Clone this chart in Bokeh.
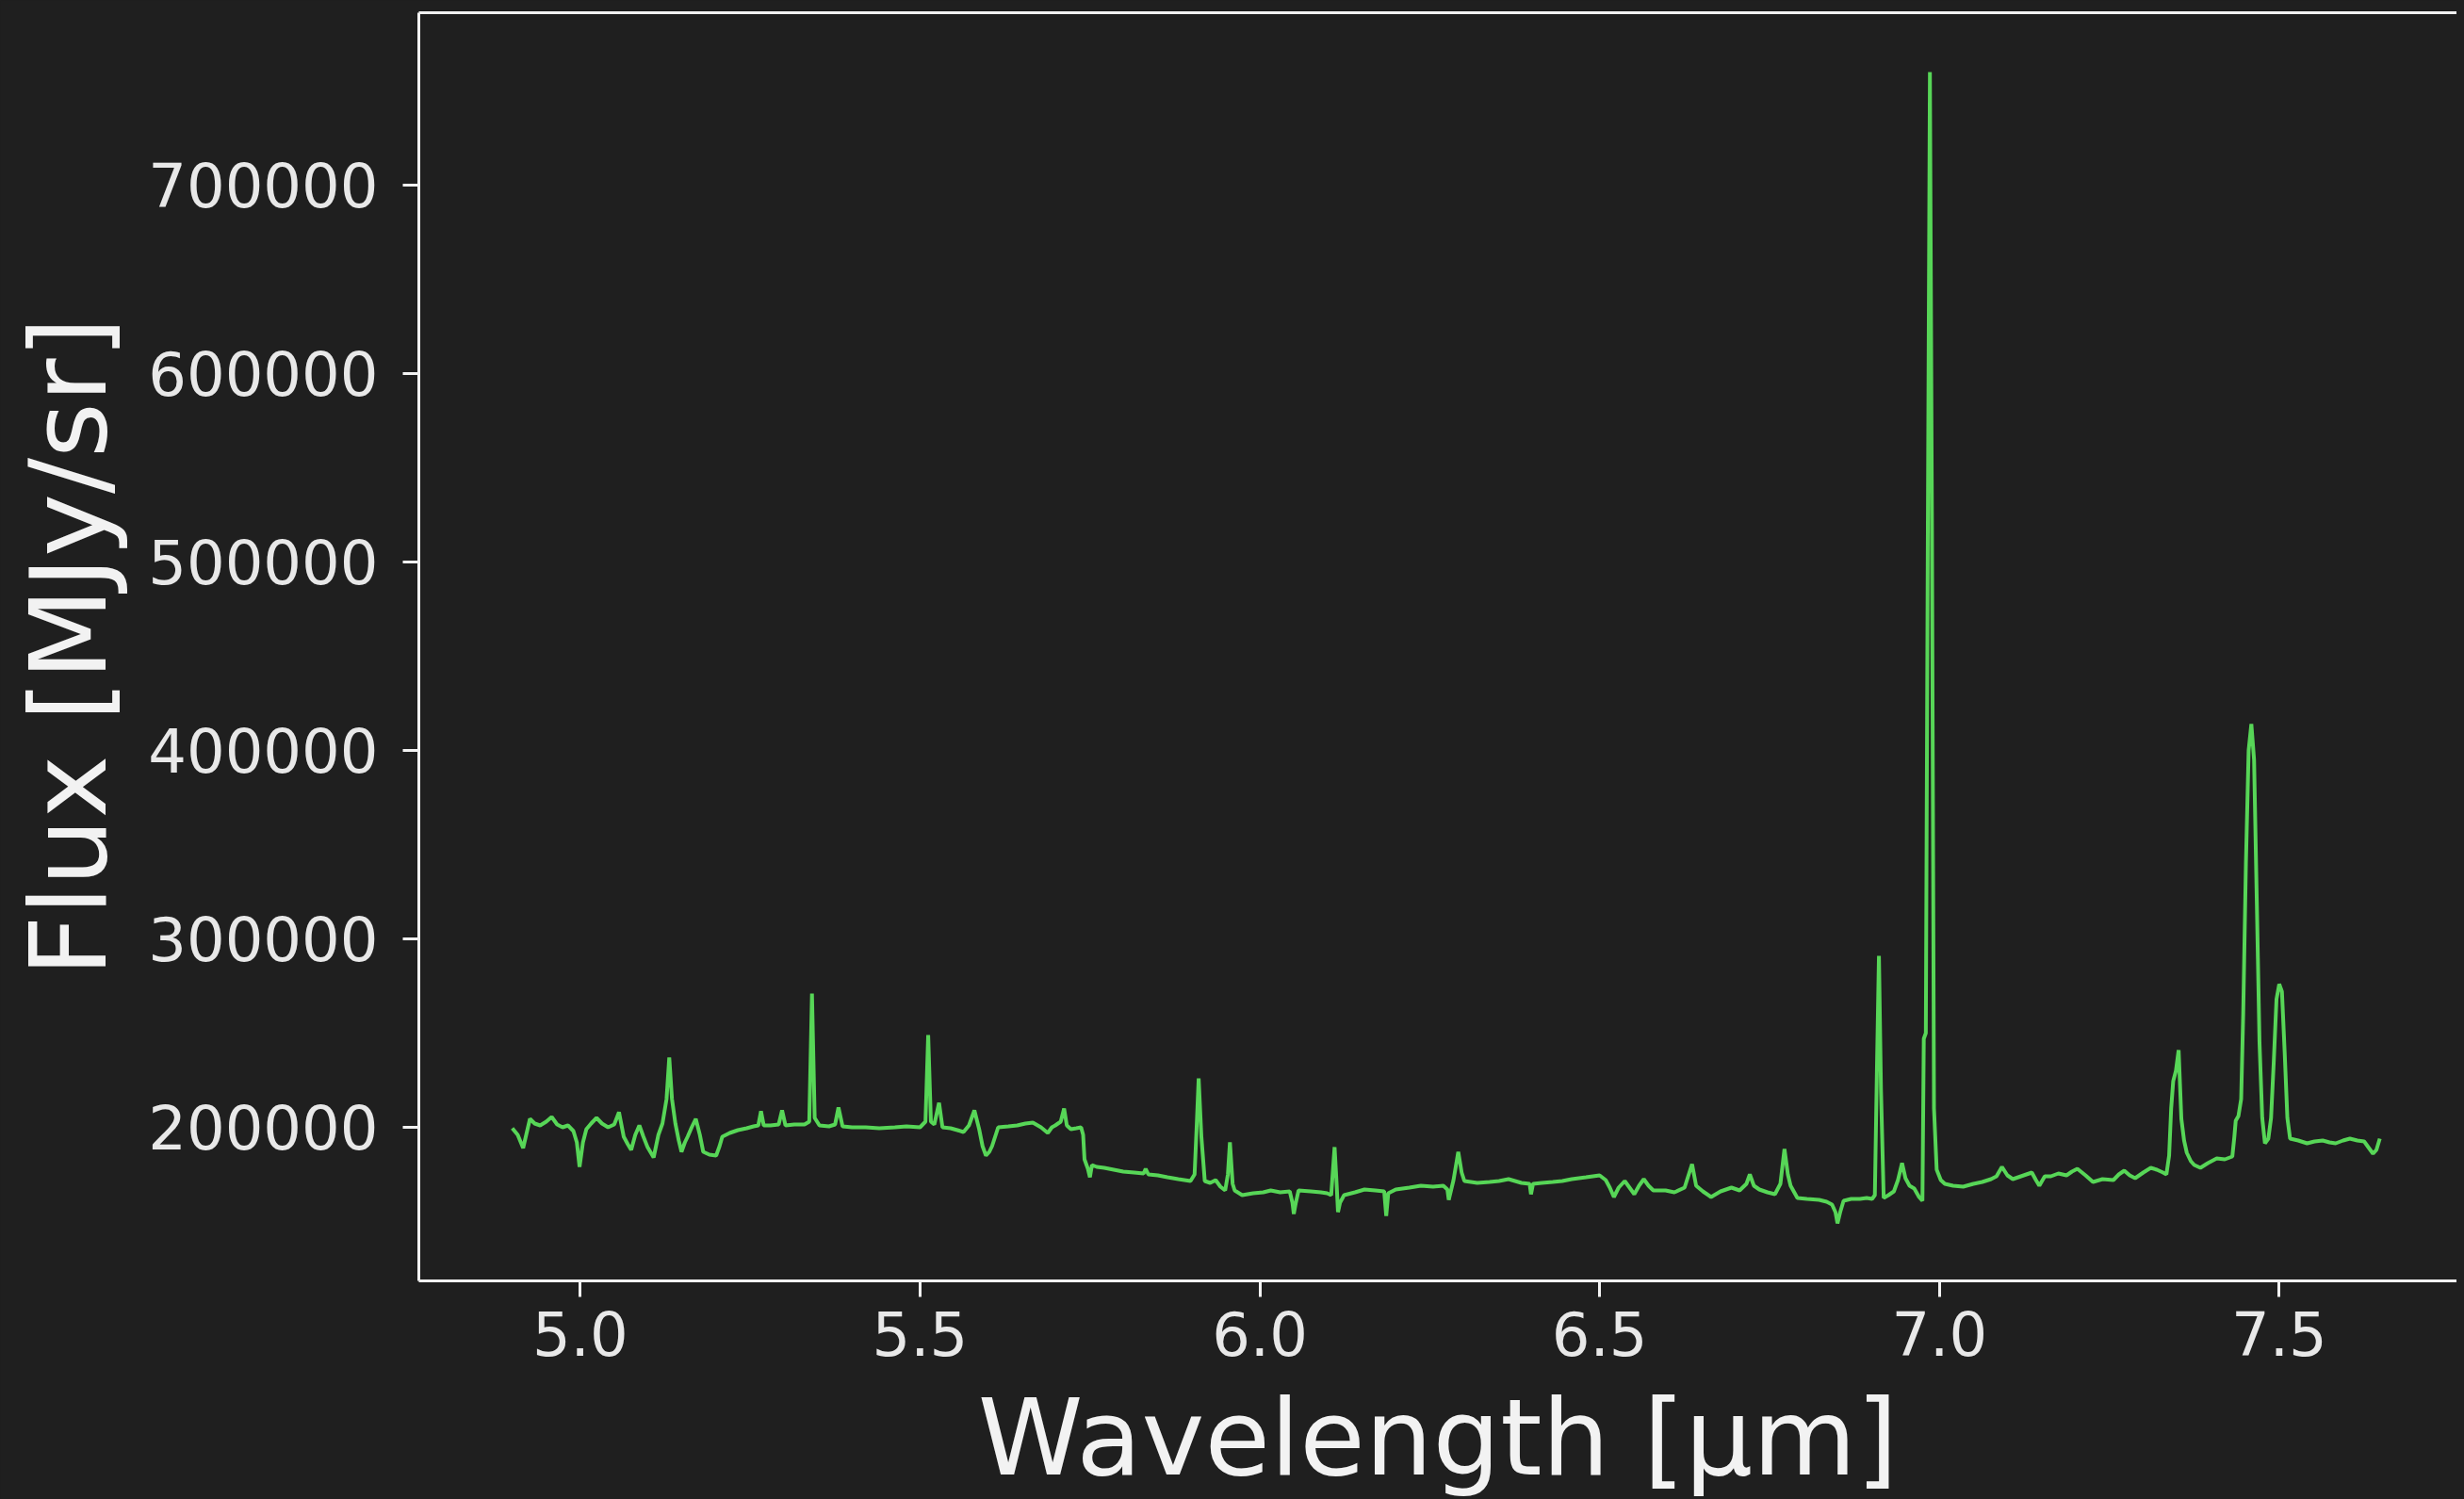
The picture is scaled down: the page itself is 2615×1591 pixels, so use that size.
import numpy as np
from bokeh.plotting import figure
from bokeh.models import LinearAxis, FixedTicker, BasicTickFormatter, PrintfTickFormatter, Range1d
from bokeh.embed import file_html
from bokeh.resources import INLINE

# Spectrum (wavelength in micron, flux in MJy/sr)
wavelength = [
    4.900, 4.908, 4.916, 4.926, 4.933, 4.941, 4.950, 4.958, 4.966, 4.974,
    4.982, 4.990, 4.995, 4.999, 5.004, 5.009, 5.016, 5.024, 5.032, 5.041,
    5.050, 5.057, 5.064, 5.070, 5.075, 5.081, 5.087, 5.093, 5.099, 5.108,
    5.115, 5.121, 5.127, 5.131, 5.135, 5.140, 5.145, 5.149, 5.154, 5.158,
    5.164, 5.170, 5.176, 5.181, 5.190, 5.200, 5.205, 5.209, 5.220, 5.232,
    5.245, 5.255, 5.262, 5.266, 5.270, 5.280, 5.292, 5.297, 5.302, 5.315,
    5.330, 5.337, 5.341, 5.345, 5.352, 5.366, 5.375, 5.380, 5.386, 5.400,
    5.420, 5.440, 5.463, 5.480, 5.500, 5.508, 5.512, 5.516, 5.521, 5.528,
    5.533, 5.545, 5.555, 5.564, 5.572, 5.580, 5.587, 5.592, 5.597, 5.602,
    5.606, 5.615, 5.630, 5.643, 5.655, 5.666, 5.678, 5.688, 5.694, 5.699,
    5.707, 5.712, 5.716, 5.722, 5.730, 5.737, 5.740, 5.742, 5.747, 5.750,
    5.753, 5.760, 5.771, 5.785, 5.799, 5.815, 5.829, 5.832, 5.836, 5.850,
    5.864, 5.880, 5.898, 5.904, 5.907, 5.910, 5.914, 5.919, 5.927, 5.935,
    5.942, 5.949, 5.953, 5.956, 5.960, 5.963, 5.974, 5.990, 6.005, 6.016,
    6.030, 6.044, 6.048, 6.050, 6.053, 6.057, 6.075, 6.090, 6.099, 6.105,
    6.110, 6.113, 6.115, 6.118, 6.124, 6.140, 6.154, 6.170, 6.183, 6.186,
    6.189, 6.200, 6.220, 6.237, 6.255, 6.270, 6.276, 6.278, 6.285, 6.292,
    6.297, 6.301, 6.320, 6.338, 6.352, 6.366, 6.385, 6.397, 6.399, 6.402,
    6.415, 6.431, 6.445, 6.459, 6.480, 6.500, 6.509, 6.515, 6.521, 6.528,
    6.537, 6.544, 6.551, 6.558, 6.565, 6.572, 6.579, 6.597, 6.610, 6.625,
    6.636, 6.642, 6.652, 6.664, 6.678, 6.694, 6.706, 6.716, 6.721, 6.727,
    6.735, 6.747, 6.758, 6.766, 6.772, 6.777, 6.781, 6.791, 6.805, 6.823,
    6.834, 6.842, 6.847, 6.850, 6.854, 6.859, 6.870, 6.883, 6.893, 6.901,
    6.905, 6.908, 6.911, 6.914, 6.918, 6.925, 6.933, 6.939, 6.945, 6.950,
    6.956, 6.963, 6.970, 6.975, 6.977, 6.980, 6.983, 6.986, 6.989, 6.992,
    6.996, 7.002, 7.008, 7.020, 7.035, 7.050, 7.063, 7.076, 7.084, 7.092,
    7.100, 7.108, 7.120, 7.136, 7.142, 7.147, 7.155, 7.164, 7.175, 7.187,
    7.195, 7.203, 7.215, 7.226, 7.240, 7.256, 7.264, 7.272, 7.280, 7.288,
    7.300, 7.311, 7.320, 7.329, 7.334, 7.338, 7.341, 7.344, 7.348, 7.352,
    7.356, 7.360, 7.364, 7.370, 7.375, 7.384, 7.395, 7.408, 7.420, 7.431,
    7.434, 7.436, 7.440, 7.444, 7.447, 7.451, 7.455, 7.459, 7.463, 7.467,
    7.471, 7.475, 7.479, 7.484, 7.488, 7.492, 7.496, 7.500, 7.504, 7.508,
    7.512, 7.516, 7.528, 7.541, 7.552, 7.564, 7.574, 7.583, 7.594, 7.604,
    7.615, 7.625, 7.632, 7.638, 7.643, 7.648,
]
flux = [
    199500, 196000, 189000, 204500, 202000, 201000, 203000, 205500, 201500, 200000,
    201000, 198000, 192000, 179000, 192000, 199000, 202000, 205000, 202000, 200000,
    201500, 208000, 195000, 191000, 188000, 196000, 201000, 195000, 189500, 184000,
    196000, 202000, 215000, 237000, 215000, 202000, 193000, 187000, 192000, 195000,
    200000, 204500, 196000, 187000, 185500, 185000, 190000, 195000, 197000, 198500,
    199500, 200500, 201000, 208500, 201000, 201000, 201500, 209000, 201000, 201500,
    201500, 203000, 271000, 205000, 201000, 200500, 201500, 210500, 200500, 200000,
    200000, 199500, 200000, 200500, 200000, 203000, 249000, 203000, 201500, 213000,
    200000, 199500, 198500, 197500, 201000, 209000, 199000, 190000, 185000, 187000,
    190000, 200000, 200500, 201000, 202000, 202500, 200000, 197000, 200000, 201000,
    203000, 210000, 201000, 199000, 199500, 200000, 196000, 183000, 178000, 173500,
    180000, 179000, 178500, 177500, 176500, 176000, 175500, 178000, 175000, 174500,
    173500, 172500, 171500, 175000, 200000, 226000, 195000, 171500, 170500, 172000,
    168500, 166500, 175000, 192000, 170000, 166500, 164000, 165000, 165500, 166500,
    165500, 166000, 160000, 154000, 160000, 166500, 166000, 165500, 165000, 164000,
    189500, 170000, 155000, 160000, 164000, 165500, 167000, 166500, 166000, 153000,
    165000, 167000, 168000, 169000, 168500, 169000, 167000, 161500, 172000, 187000,
    176000, 171500, 170500, 171000, 171500, 172500, 170500, 170000, 164500, 170000,
    170500, 171000, 171500, 172500, 173500, 174500, 172000, 168000, 163000, 168000,
    171500, 168000, 164500, 169000, 172500, 169000, 166500, 166500, 165500, 168000,
    180500, 169000, 166000, 163000, 166000, 168000, 166500, 170000, 175000, 169000,
    167000, 165500, 164500, 170000, 188500, 175000, 169000, 162500, 162000, 161500,
    160500, 159000, 155000, 149000, 155000, 161000, 162000, 162000, 162500, 162000,
    164000, 230000, 291000, 220000, 162500, 164000, 166000, 172000, 181000, 173000,
    169000, 167500, 163000, 161000, 247000, 250000, 520000, 760000, 520000, 210000,
    177500, 172000, 170000, 169000, 168500, 170000, 171000, 172500, 174000, 179000,
    174500, 172500, 174000, 176000, 172000, 169000, 174000, 174000, 175500, 174500,
    176500, 178000, 174500, 171000, 172500, 172000, 175000, 177000, 174500, 173000,
    176000, 178500, 177500, 176000, 175000, 185000, 210000, 224500, 230000, 241000,
    204500, 193000, 186500, 182000, 180000, 178500, 181000, 183500, 183000, 184500,
    195000, 203500, 206000, 215000, 260000, 340000, 400000, 414000, 395000, 320000,
    245000, 205000, 191500, 194000, 205000, 235000, 268000, 276000, 272000, 240000,
    205000, 194000, 193000, 191500, 192500, 193000, 192000, 191500, 193000, 194000,
    193000, 192500, 189000, 186000, 188000, 194000,
]

x_ticks = [5.0, 5.5, 6.0, 6.5, 7.0, 7.5]
y_ticks = [200000, 300000, 400000, 500000, 600000, 700000]
x_label = "Wavelength [μm]"
y_label = "Flux [MJy/sr]"

BG = "#1f1f1f"
FG = "#f2f2f2"
LINE = "#57d657"
FONT = "DejaVu Sans"

p = figure(
    frame_width=2163, frame_height=1346,
    x_range=Range1d(4.7625, 7.7615), y_range=Range1d(118500, 791500),
    output_backend="svg", toolbar_location=None,
    background_fill_color=BG, border_fill_color=BG, outline_line_color=None,
    min_border_left=444, min_border_right=0, min_border_top=13, min_border_bottom=0,
    x_axis_label=x_label, y_axis_label=y_label,
)
p.grid.visible = False

p.line(wavelength, flux, line_color=LINE, line_width=4)

p.xaxis.ticker = FixedTicker(ticks=x_ticks)
p.xaxis.formatter = PrintfTickFormatter(format="%.1f")
p.yaxis.ticker = FixedTicker(ticks=y_ticks)
p.yaxis.formatter = BasicTickFormatter(use_scientific=False)

for ax in (p.xaxis[0], p.yaxis[0]):
    ax.axis_line_color = FG
    ax.axis_line_width = 3
    ax.major_tick_line_color = FG
    ax.major_tick_line_width = 3
    ax.major_tick_out = 17
    ax.major_tick_in = 0
    ax.minor_tick_line_color = None
    ax.major_label_text_font = FONT
    ax.major_label_text_font_size = "64px"
    ax.major_label_text_color = "#e8e8e8"
    ax.axis_label_text_font = FONT
    ax.axis_label_text_font_size = "113px"
    ax.axis_label_text_font_style = "normal"
    ax.axis_label_text_color = FG

p.xaxis.major_label_standoff = 15
p.xaxis.axis_label_standoff = 18
p.yaxis.major_label_standoff = 26
p.yaxis.axis_label_standoff = 15

top = LinearAxis(ticker=FixedTicker(ticks=[]), axis_line_color=FG, axis_line_width=3,
                 major_tick_line_color=None, minor_tick_line_color=None,
                 major_tick_out=0, major_tick_in=0, major_label_standoff=0,
                 major_label_text_font_size="0px")
p.add_layout(top, "above")

style = """
{% block preamble %}
<style>html, body { background: #1f1f1f; }</style>
{% endblock %}
"""
try:
    html = file_html(p, INLINE, template=style)
except Exception:
    html = file_html(p, INLINE)
open("out.html", "w").write(html)
